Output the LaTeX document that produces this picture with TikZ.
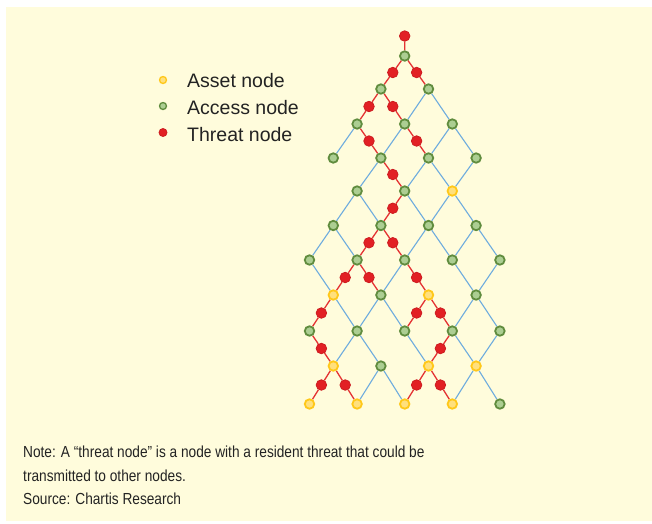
\documentclass[tikz,border=0pt]{standalone}
\usepackage{fontspec}
\setmainfont{Liberation Sans}
\newfontfamily\notefont{Liberation Sans}[FakeStretch=0.855]
\usetikzlibrary{calc,backgrounds}
\definecolor{bgyellow}{RGB}{255,252,220}
\definecolor{accfill}{RGB}{172,206,146}
\definecolor{accdraw}{RGB}{96,140,62}
\definecolor{assfill}{RGB}{255,224,125}
\definecolor{assdraw}{RGB}{255,200,25}
\definecolor{thrfill}{RGB}{226,32,36}
\definecolor{thrdraw}{RGB}{205,28,32}
\definecolor{edgeblue}{RGB}{110,172,222}
\definecolor{edgered}{RGB}{228,50,50}
\definecolor{txt}{RGB}{35,35,35}
\tikzset{
  acc/.style={circle, inner sep=0pt, minimum size=9.5pt, fill=accfill, draw=accdraw, line width=1.8pt},
  asset/.style={circle, inner sep=0pt, minimum size=9.5pt, fill=assfill, draw=assdraw, line width=1.8pt},
  threat/.style={circle, inner sep=0pt, minimum size=10.5pt, fill=thrfill, draw=thrdraw, line width=0.8pt},
  legsize/.style={minimum size=7pt, line width=1.3pt},
  blueedge/.style={draw=edgeblue, line width=1.1pt},
  rededge/.style={draw=edgered, line width=1.3pt},
  legtext/.style={anchor=base west, inner sep=0pt, text=txt, font=\fontsize{19.5}{23}\selectfont},
  notetext/.style={anchor=base west, inner sep=0pt, text=txt, font=\notefont\fontsize{16}{20}\selectfont}
}
\begin{document}
\begin{tikzpicture}[x=1pt,y=-1pt]
\useasboundingbox (0,0) rectangle (652,523);
\begin{pgfonlayer}{background}
\fill[bgyellow] (6,7) rectangle (652,521);
\end{pgfonlayer}

% access and asset nodes
\foreach \r/\c/\k in {1/4/acc, 2/3/acc, 2/5/acc, 3/2/acc, 3/4/acc, 3/6/acc,
  4/1/acc, 4/3/acc, 4/5/acc, 4/7/acc, 5/2/acc, 5/4/acc, 5/6/asset,
  6/1/acc, 6/3/acc, 6/5/acc, 6/7/acc,
  7/0/acc, 7/2/acc, 7/4/acc, 7/6/acc, 7/8/acc,
  8/1/asset, 8/3/acc, 8/5/asset, 8/7/acc,
  9/0/acc, 9/2/acc, 9/4/acc, 9/6/acc, 9/8/acc,
  10/1/asset, 10/3/acc, 10/5/asset, 10/7/asset,
  11/0/asset, 11/2/asset, 11/4/asset, 11/6/asset, 11/8/acc} {
  \pgfmathsetmacro\yy{{36,56,89,124,158,191,225.5,260,295,331,366,404}[\r]}
  \pgfmathsetmacro\xx{309.5+23.8*\c}
  \node[\k] (n\r-\c) at (\xx,\yy) {};
}

% blue connectors
\begin{pgfonlayer}{background}
\foreach \a/\b in {2-5/3-4, 2-5/3-6, 3-2/4-1, 3-4/4-3, 3-6/4-5, 3-6/4-7,
  4-3/5-2, 4-5/5-4, 4-5/5-6, 4-7/5-6,
  5-2/6-1, 5-2/6-3, 5-4/6-5, 5-6/6-5, 5-6/6-7,
  6-1/7-0, 6-1/7-2, 6-5/7-4, 6-5/7-6, 6-7/7-6, 6-7/7-8,
  7-0/8-1, 7-4/8-3, 7-6/8-7, 7-8/8-7,
  8-1/9-2, 8-3/9-2, 8-3/9-4, 8-7/9-6, 8-7/9-8,
  9-2/10-1, 9-2/10-3, 9-4/10-5, 9-6/10-7, 9-8/10-7,
  10-3/11-2, 10-3/11-4, 10-7/11-6, 10-7/11-8} {
  \draw[blueedge] (n\a) -- (n\b);
}
\end{pgfonlayer}

% threat nodes on red connectors
\node[threat] (t0) at (404.7,36) {};
\begin{pgfonlayer}{background}
\draw[rededge] (t0) -- (n1-4);
\end{pgfonlayer}
\foreach \a/\b/\t in {1-4/2-3/t1, 1-4/2-5/t2, 2-3/3-2/t3, 2-3/3-4/t4,
  3-2/4-3/t5, 3-4/4-5/t6, 4-3/5-4/t7, 5-4/6-3/t8,
  6-3/7-2/t9, 6-3/7-4/t10, 7-2/8-1/t11, 7-2/8-3/t12, 7-4/8-5/t13,
  8-1/9-0/t14, 8-5/9-4/t15, 8-5/9-6/t16, 9-0/10-1/t17, 9-6/10-5/t18,
  10-1/11-0/t19, 10-1/11-2/t20, 10-5/11-4/t21, 10-5/11-6/t22} {
  \node[threat] (\t) at ($(n\a)!0.5!(n\b)$) {};
  \begin{pgfonlayer}{background}
  \draw[rededge] (n\a) -- (\t) -- (n\b);
  \end{pgfonlayer}
}

% legend
\node[asset, legsize] (la) at (163,80) {};
\node[acc, legsize] (lb) at (163,106) {};
\node[threat, minimum size=8pt] (lc) at (163,132.5) {};
\node[legtext] (lta) at (187,87.3) {Asset node};
\node[legtext] (ltb) at (187,114) {Access node};
\node[legtext] (ltc) at (187,141) {Threat node};

% note
\node[notetext] (note1) at (23,457.3) {Note: A “threat node” is a node with a resident threat that could be};
\node[notetext] (note2) at (23,481) {transmitted to other nodes.};
\node[notetext] (note3) at (23,504.8) {Source: Chartis Research};
\end{tikzpicture}
\end{document}
